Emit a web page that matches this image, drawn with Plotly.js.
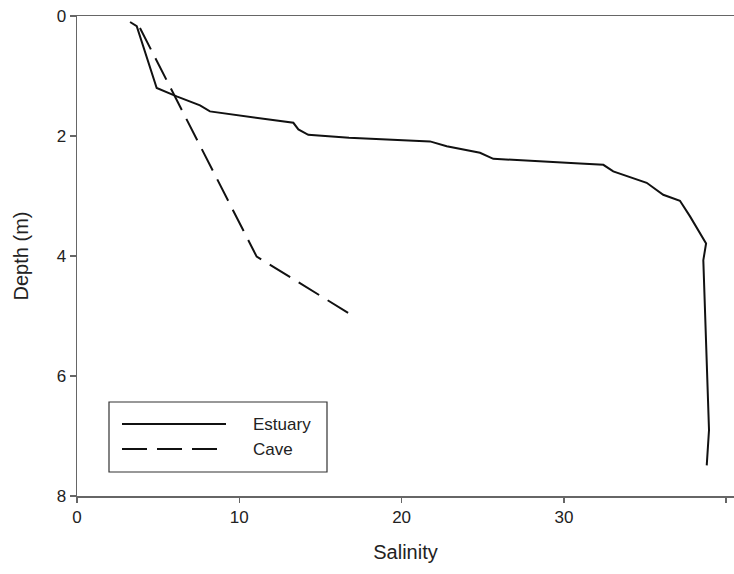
<!DOCTYPE html>
<html>
<head>
<meta charset="utf-8">
<script src="https://cdn.plot.ly/plotly-3.0.1.min.js"></script>
<style>html,body{margin:0;padding:0;background:#fff;}#chart{width:734px;height:574px;}</style>
</head>
<body>
<div id="chart"></div>
<script>
// Series names
const seriesNames = ["Estuary", "Cave"];

// Estuary profile
const estuarySalinity = [3.27, 3.68, 4.91, 6.14, 7.58, 8.19, 13.33, 13.64, 14.25, 16.76, 21.75, 22.78, 24.83, 25.65, 30.99, 32.43, 33.04, 35.10, 36.12, 37.15, 37.77, 38.59, 38.76, 38.59, 38.80, 38.94, 38.80];
const estuaryDepth    = [0.10, 0.17, 1.20, 1.34, 1.49, 1.59, 1.78, 1.89, 1.98, 2.03, 2.09, 2.17, 2.28, 2.38, 2.46, 2.48, 2.59, 2.78, 2.98, 3.08, 3.34, 3.73, 3.79, 4.07, 5.79, 6.90, 7.49];

// Cave profile
const caveSalinity = [3.88, 11.07, 17.02];
const caveDepth    = [0.20, 4.01, 5.00];

// Axis ticks
const xTicks = [0, 10, 20, 30, 40];
const yTicks = [0, 2, 4, 6, 8];

const font = "Liberation Sans, Arial, sans-serif";

const traces = [
  {x: estuarySalinity, y: estuaryDepth, name: seriesNames[0], type: "scatter", mode: "lines",
   line: {color: "#111", width: 2}, showlegend: false},
  {x: caveSalinity, y: caveDepth, name: seriesNames[1], type: "scatter", mode: "lines",
   line: {color: "#111", width: 2, dash: "24px,10px"}, showlegend: false}
];

const L = 77, T = 16, W = 657, H = 480, B = T + H;
const px = v => (v - L) / W;
const py = v => (B - v) / H;

const layout = {
  width: 734, height: 574,
  margin: {l: L, r: 0, t: T, b: 574 - B},
  paper_bgcolor: "#fff", plot_bgcolor: "#fff",
  font: {family: font, color: "#222", size: 17},
  xaxis: {
    range: [0, 40.48], tickvals: xTicks, ticktext: xTicks.map(String),
    showgrid: false, zeroline: false, showline: true, mirror: true,
    linecolor: "#666", linewidth: 1.5,
    ticks: "outside", ticklen: 5, tickcolor: "#666", tickwidth: 1.5,
    tickfont: {size: 17, color: "#222"},
    title: {text: "Salinity", font: {size: 20, color: "#222"}, standoff: 19},
    automargin: false
  },
  yaxis: {
    range: [8, 0], tickvals: yTicks, ticktext: yTicks.map(String),
    showgrid: false, zeroline: false, showline: true,
    linecolor: "#666", linewidth: 1.5,
    ticks: "outside", ticklen: 6, tickcolor: "#666", tickwidth: 1.5,
    tickfont: {size: 17, color: "#222"},
    title: {text: "Depth (m)", font: {size: 20, color: "#222"}, standoff: 22},
    automargin: false
  },
  showlegend: false,
  shapes: [
    {type: "rect", xref: "paper", yref: "paper",
     x0: px(109), x1: px(327), y0: py(472), y1: py(402),
     line: {color: "#333", width: 1.2}, fillcolor: "rgba(0,0,0,0)"},
    {type: "line", xref: "paper", yref: "paper",
     x0: px(122), x1: px(226), y0: py(424), y1: py(424),
     line: {color: "#111", width: 2}},
    {type: "line", xref: "paper", yref: "paper",
     x0: px(122), x1: px(226), y0: py(449), y1: py(449),
     line: {color: "#111", width: 2, dash: "25px,10px"}}
  ],
  annotations: [
    {text: seriesNames[0], xref: "paper", yref: "paper", x: px(251), y: py(424),
     xanchor: "left", yanchor: "middle", showarrow: false, font: {size: 17, color: "#222"}},
    {text: seriesNames[1], xref: "paper", yref: "paper", x: px(251), y: py(449),
     xanchor: "left", yanchor: "middle", showarrow: false, font: {size: 17, color: "#222"}}
  ]
};

Plotly.newPlot("chart", traces, layout, {displayModeBar: false, staticPlot: true});
</script>
</body>
</html>
